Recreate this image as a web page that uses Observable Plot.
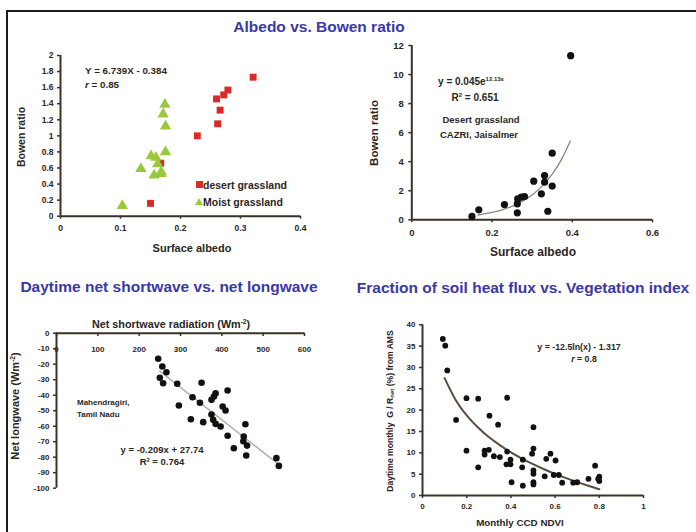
<!DOCTYPE html>
<html>
<head>
<meta charset="utf-8">
<script src="https://cdn.jsdelivr.net/npm/d3@7"></script>
<script src="https://cdn.jsdelivr.net/npm/@observablehq/plot@0.6"></script>
<style>
  html, body { margin: 0; padding: 0; background: #fff; }
  #root { position: relative; width: 696px; height: 532px; overflow: hidden; background: #fff;
          font-family: "Liberation Sans", Arial, sans-serif; color: #2b261e; }
  #frame { position: absolute; left: 6px; top: 10px; width: 800px; height: 600px;
           border-top: 2px solid #1e1e1e; border-left: 2px solid #1e1e1e; }
  .panel { position: absolute; }
  .t { position: absolute; white-space: nowrap; font-weight: bold; transform: translate(-50%, -50%); line-height: 1; }
  .l { position: absolute; white-space: nowrap; font-weight: bold; transform: translate(0, -50%); line-height: 1; }
  .title { color: #3a38a6; }
  sup { font-size: 0.6em; vertical-align: 0.6em; line-height: 0; }
  sub { font-size: 0.7em; vertical-align: -0.2em; line-height: 0; }
  svg { overflow: visible; }
</style>
</head>
<body>
<div id="root"><div id="frame"></div></div>
<script>
// ---------- Panel 1: Albedo vs Bowen ratio (two grasslands) ----------
const desertAlbedo = [0.321, 0.279, 0.272, 0.260, 0.266, 0.262, 0.228, 0.167, 0.150];
const desertBowen  = [1.73, 1.57, 1.51, 1.46, 1.32, 1.15, 1.00, 0.66, 0.16];
const moistAlbedo  = [0.174, 0.171, 0.175, 0.175, 0.151, 0.159, 0.162, 0.134, 0.168, 0.156, 0.167, 0.103];
const moistBowen   = [1.39, 1.27, 1.12, 0.80, 0.75, 0.73, 0.65, 0.59, 0.55, 0.51, 0.53, 0.13];
const p1XTicks = [0, 0.1, 0.2, 0.3, 0.4];
const p1YTicks = [0, 0.2, 0.4, 0.6, 0.8, 1, 1.2, 1.4, 1.6, 1.8, 2];

// ---------- Panel 2: CAZRI desert grassland ----------
const cazriAlbedo = [0.396, 0.350, 0.331, 0.331, 0.350, 0.323, 0.304, 0.281, 0.273, 0.264, 0.263, 0.231, 0.263, 0.339, 0.167, 0.150];
const cazriBowen  = [11.3, 4.59, 3.05, 2.59, 2.32, 1.79, 2.66, 1.60, 1.56, 1.44, 1.10, 1.05, 0.48, 0.59, 0.69, 0.23];
const cazriFitX   = [0.165, 0.2, 0.225, 0.25, 0.275, 0.3, 0.325, 0.35, 0.375, 0.395];
const cazriFitY   = [0.33, 0.51, 0.69, 0.93, 1.26, 1.71, 2.32, 3.14, 4.25, 5.42];
const p2XTicks = [0, 0.2, 0.4, 0.6];
const p2YTicks = [0, 2, 4, 6, 8, 10, 12];

// ---------- Panel 3: net shortwave vs net longwave ----------
const netSW = [246, 256, 266, 250, 258, 292, 351, 414, 385, 381, 375, 329, 347, 296, 402, 409, 375, 325, 355, 379, 385, 397, 457, 414, 453, 452, 461, 429, 459, 532, 538];
const netLW = [-16.5, -21.5, -25.2, -28.8, -32.3, -32.6, -32.0, -37.0, -38.7, -40.8, -43.0, -41.3, -44.9, -46.6, -47.3, -49.9, -52.5, -55.5, -57.4, -55.9, -58.5, -60.2, -58.7, -66.2, -66.6, -69.7, -72.5, -74.2, -78.9, -80.6, -85.6];
const lwFitX = [250, 535];
const lwFitY = [-24.5, -84.1];
const p3XTicks = [0, 100, 200, 300, 400, 500, 600];
const p3YTicks = [0, -10, -20, -30, -40, -50, -60, -70, -80, -90, -100];

// ---------- Panel 4: soil heat flux fraction vs NDVI ----------
const ndvi   = [0.092, 0.103, 0.112, 0.152, 0.199, 0.252, 0.383, 0.303, 0.342, 0.502, 0.199, 0.281, 0.300, 0.281, 0.323, 0.350, 0.383, 0.398, 0.380, 0.398, 0.454, 0.451, 0.252, 0.496, 0.502, 0.502, 0.502, 0.502, 0.502, 0.403, 0.454, 0.553, 0.560, 0.579, 0.602, 0.594, 0.617, 0.632, 0.682, 0.700, 0.781, 0.751, 0.800, 0.800, 0.795];
const gRatio = [36.7, 35.1, 29.3, 17.7, 22.8, 22.7, 22.9, 18.7, 16.6, 16.0, 10.5, 10.5, 10.7, 9.6, 9.2, 9.0, 10.3, 8.4, 7.3, 7.3, 8.4, 6.6, 6.6, 9.8, 11.0, 5.9, 5.1, 3.1, 2.6, 3.1, 2.3, 4.5, 8.6, 9.8, 8.2, 4.8, 4.8, 3.0, 3.0, 3.1, 7.0, 3.9, 4.4, 3.4, 3.9];
const gFitX = [0.1, 0.15, 0.2, 0.25, 0.3, 0.35, 0.4, 0.45, 0.5, 0.55, 0.6, 0.65, 0.7, 0.75, 0.8];
const gFitY = [27.5, 22.4, 18.8, 16.0, 13.7, 11.8, 10.1, 8.66, 7.35, 6.16, 5.07, 4.07, 3.14, 2.28, 1.47];
const p4XTicks = [0, 0.2, 0.4, 0.6, 0.8, 1];
const p4YTicks = [0, 5, 10, 15, 20, 25, 30, 35, 40];

// ---------- helpers ----------
const axisColor = "#3a3226";
const textColor = "#2b261e";
const zip = (xs, ys) => xs.map((x, i) => ({x, y: ys[i]}));
const root = document.getElementById("root");
function place(svg, left, top) {
  const d = document.createElement("div");
  d.className = "panel";
  d.style.left = left + "px";
  d.style.top = top + "px";
  d.appendChild(svg);
  root.appendChild(d);
}
function txt(html, x, y, size, opts = {}) {
  const d = document.createElement("div");
  d.className = opts.left ? "l" : "t";
  if (opts.cls) d.classList.add(opts.cls);
  d.innerHTML = html;
  d.style.left = x + "px";
  d.style.top = y + "px";
  d.style.fontSize = size + "px";
  if (opts.color) d.style.color = opts.color;
  if (opts.rotate) d.style.transform = "translate(-50%, -50%) rotate(-90deg)";
  root.appendChild(d);
  return d;
}
const baseStyle = (fs) => ({fontFamily: "'Liberation Sans', Arial, sans-serif", fontSize: fs + "px", fontWeight: "bold", color: textColor, background: "transparent", overflow: "visible"});
const fmt = d => String(d);

// ---------- Panel 1 ----------
place(Plot.plot({
  width: 320, height: 220, marginLeft: 60, marginRight: 20, marginTop: 15, marginBottom: 44.3,
  x: {domain: [0, 0.4]}, y: {domain: [0, 2]},
  style: baseStyle(8.5),
  marks: [
    Plot.axisX({ticks: p1XTicks, tickSize: 3, tickPadding: 6, tickFormat: fmt, label: null, stroke: axisColor, strokeWidth: 1.5}),
    Plot.axisY({ticks: p1YTicks, tickSize: 3, tickPadding: 4, tickFormat: fmt, label: null, stroke: axisColor, strokeWidth: 1.5}),
    Plot.ruleY([0], {stroke: axisColor, strokeWidth: 2}),
    Plot.ruleX([0], {stroke: axisColor, strokeWidth: 2}),
    Plot.dot(zip(desertAlbedo, desertBowen), {x: "x", y: "y", symbol: "square", fill: "#d92a26", r: 3.9}),
    Plot.dot(zip(moistAlbedo, moistBowen), {x: "x", y: "y", symbol: "triangle", fill: "#99c93a", r: 4.2})
  ]
}), 0, 40);
txt("Y = 6.739X - 0.384", 126, 71, 9.8);
txt("<i>r</i> = 0.85", 85, 85, 9.8, {left: true});
txt("Bowen ratio", 21, 137, 10.5, {rotate: true});
txt("Surface albedo", 192, 248, 11);
// legend
(function () {
  const sq = document.createElement("div");
  Object.assign(sq.style, {position: "absolute", left: "195.5px", top: "181px", width: "7px", height: "7px", background: "#d92a26"});
  root.appendChild(sq);
  const tr = document.createElement("div");
  Object.assign(tr.style, {position: "absolute", left: "195px", top: "198px", width: "0", height: "0",
    borderLeft: "4px solid transparent", borderRight: "4px solid transparent", borderBottom: "7px solid #99c93a"});
  root.appendChild(tr);
})();
txt("desert grassland", 203, 185, 10.5, {left: true});
txt("Moist grassland", 203, 202, 10.5, {left: true});

// ---------- Panel 2 ----------
place(Plot.plot({
  width: 340, height: 220, marginLeft: 71.3, marginRight: 28, marginTop: 15, marginBottom: 30.7,
  x: {domain: [0, 0.6]}, y: {domain: [0, 12]},
  style: baseStyle(9.5),
  marks: [
    Plot.axisX({ticks: p2XTicks, tickSize: 3, tickPadding: 6, tickFormat: fmt, label: null, stroke: axisColor, strokeWidth: 1.5}),
    Plot.axisY({ticks: p2YTicks, tickSize: 3, tickPadding: 5, tickFormat: fmt, label: null, stroke: axisColor, strokeWidth: 1.5}),
    Plot.ruleY([0], {stroke: axisColor, strokeWidth: 2}),
    Plot.ruleX([0], {stroke: axisColor, strokeWidth: 2}),
    Plot.line(zip(cazriFitX, cazriFitY), {x: "x", y: "y", stroke: "#8f8578", strokeWidth: 1.3, curve: "natural"}),
    Plot.dot(zip(cazriAlbedo, cazriBowen), {x: "x", y: "y", fill: "#111", r: 3.6})
  ]
}), 340, 30);
txt("y = 0.045e<sup>12.13x</sup>", 471, 82, 10);
txt("R<sup>2</sup> = 0.651", 475, 98, 10);
txt("Desert grassland", 481, 119.5, 9.5);
txt("CAZRI, Jaisalmer", 479, 134.5, 9.5);
txt("Bowen ratio", 375, 133, 11.5, {rotate: true});
txt("Surface albedo", 533, 252, 12);

// ---------- Panel 3 ----------
place(Plot.plot({
  width: 330, height: 200, marginLeft: 56, marginRight: 26, marginTop: 32.7, marginBottom: 12.3,
  x: {domain: [0, 600], axis: null}, y: {domain: [-100, 0]},
  style: baseStyle(8),
  marks: [
    Plot.axisY({ticks: p3YTicks, tickSize: 3, tickPadding: 4, tickFormat: fmt, label: null, stroke: axisColor, strokeWidth: 1.5}),
    Plot.ruleX(p3XTicks, {x: d => d, y1: 0, y2: -2.2, stroke: axisColor, strokeWidth: 1.5}),
    Plot.text(p3XTicks, {x: d => d, y: 0, text: fmt, dy: 16, fill: textColor}),
    Plot.ruleY([0], {stroke: axisColor, strokeWidth: 2}),
    Plot.ruleX([0], {stroke: axisColor, strokeWidth: 2}),
    Plot.line(zip(lwFitX, lwFitY), {x: "x", y: "y", stroke: "#b3ada3", strokeWidth: 1.5}),
    Plot.dot(zip(netSW, netLW), {x: "x", y: "y", fill: "#111", r: 3.3})
  ]
}), 0, 300);
txt("Net shortwave radiation (Wm<sup>-2</sup>)", 171, 324, 10.8);
txt("Net longwave (Wm<sup>-2</sup>)", 15, 406, 11, {rotate: true});
txt("Mahendragiri,", 77, 403, 8, {left: true});
txt("Tamil Nadu", 77, 415, 8, {left: true});
txt("y = -0.209x + 27.74", 162, 450, 9.5);
txt("R<sup>2</sup> = 0.764", 162, 462, 9.5);

// ---------- Panel 4 ----------
place(Plot.plot({
  width: 340, height: 220, marginLeft: 82, marginRight: 37, marginTop: 24.3, marginBottom: 25,
  x: {domain: [0, 1]}, y: {domain: [0, 40]},
  style: baseStyle(8),
  marks: [
    Plot.axisX({ticks: p4XTicks, tickSize: 3, tickPadding: 5, tickFormat: fmt, label: null, stroke: axisColor, strokeWidth: 1.5}),
    Plot.axisY({ticks: p4YTicks, tickSize: 3, tickPadding: 4, tickFormat: fmt, label: null, stroke: axisColor, strokeWidth: 1.5}),
    Plot.ruleY([0], {stroke: axisColor, strokeWidth: 2}),
    Plot.ruleX([0], {stroke: axisColor, strokeWidth: 2}),
    Plot.line(zip(gFitX, gFitY), {x: "x", y: "y", stroke: "#5b4d3e", strokeWidth: 2, curve: "natural"}),
    Plot.dot(zip(ndvi, gRatio), {x: "x", y: "y", fill: "#111", r: 2.9})
  ]
}), 340, 300);
txt("y = -12.5ln(x) - 1.317", 579, 347, 8.8);
txt("<i>r</i> = 0.8", 584, 359, 8.8);
txt("Daytime monthly &nbsp;G / R<sub>net</sub> (%) from AMS", 390, 411, 8.6, {rotate: true});
txt("Monthly CCD NDVI", 520, 523, 9.8);

// ---------- Titles ----------
txt("Albedo vs. Bowen ratio", 319, 27, 15.5, {cls: "title"});
txt("Daytime net shortwave vs. net longwave", 169, 287, 15.5, {cls: "title"});
txt("Fraction of soil heat flux vs. Vegetation index", 523, 288, 15.5, {cls: "title"});
</script>
</body>
</html>
